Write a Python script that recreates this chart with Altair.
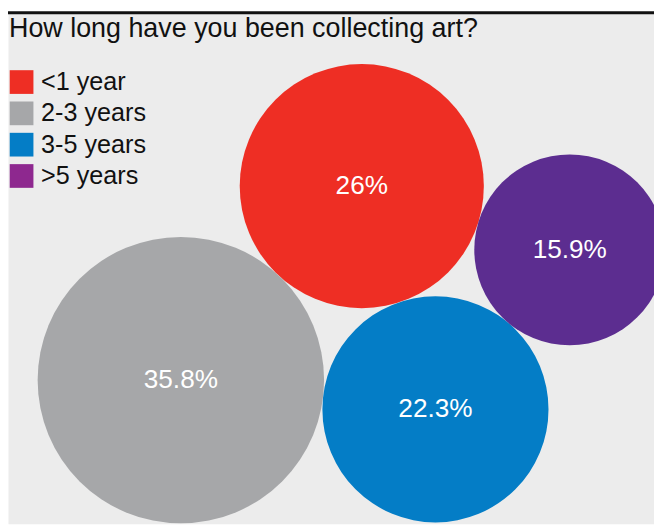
import math
import pandas as pd
import altair as alt

# ---- data ----
categories = ["<1 year", "2-3 years", "3-5 years", ">5 years"]
values = [26, 35.8, 22.3, 15.9]
bubble_colors = ["#ee2e24", "#a6a7a9", "#047dc6", "#5c2d90"]
legend_colors = ["#ee2e24", "#a6a7a9", "#047dc6", "#8e288f"]
title_text = "How long have you been collecting art?"

# ---- layout (computed) ----
W, H = 654, 519
R_MAX_PX = 145.0
FONT = "Liberation Sans"

r = {c: math.sqrt(v) for c, v in zip(categories, values)}
order = sorted(categories, key=lambda c: -r[c])


def tangent(c1, r1, c2, r2, rr):
    dx, dy = c2[0] - c1[0], c2[1] - c1[1]
    d = math.hypot(dx, dy)
    ux, uy = dx / d, dy / d
    a, b = r1 + rr, r2 + rr
    along = (a * a - b * b + d * d) / (2 * d)
    h = math.sqrt(max(a * a - along * along, 0))
    return (c1[0] + along * ux + h * uy, c1[1] + along * uy - h * ux)


theta = math.radians(47)
pos = {}
c0, c1, c2, c3 = order
pos[c0] = (0.0, 0.0)
pos[c1] = ((r[c0] + r[c1]) * math.cos(theta), (r[c0] + r[c1]) * math.sin(theta))
pos[c2] = tangent(pos[c0], r[c0], pos[c1], r[c1], r[c2])
pos[c3] = tangent(pos[c2], r[c2], pos[c1], r[c1], r[c3])

k = R_MAX_PX / max(r.values())
x_left = min(pos[c][0] - r[c] for c in categories) - 30 / k
y_bottom = min(pos[c][1] - r[c] for c in categories) - 0.5 / k
x_dom = [x_left, x_left + W / k]
y_dom = [y_bottom, y_bottom + H / k]

df = pd.DataFrame({
    "category": categories,
    "value": values,
    "x": [pos[c][0] for c in categories],
    "y": [pos[c][1] for c in categories],
    "label": [f"{v:g}%" for v in values],
})

xs = alt.X("x:Q", scale=alt.Scale(domain=x_dom, zero=False, nice=False), axis=None)
ys = alt.Y("y:Q", scale=alt.Scale(domain=y_dom, zero=False, nice=False), axis=None)

base = alt.Chart(df)

# Vega circle symbol: radius = sqrt(size) / 2
bubbles = base.mark_circle(opacity=1).encode(
    x=xs, y=ys,
    size=alt.Size("value:Q", scale=alt.Scale(domain=[0, max(values)],
                                              range=[0, (2 * R_MAX_PX) ** 2]),
                  legend=None),
    color=alt.Color("category:N", scale=alt.Scale(domain=categories, range=bubble_colors),
                    legend=None),
)

legend_layer = base.mark_point(opacity=0, filled=True).encode(
    x=xs, y=ys,
    color=alt.Color(
        "category:N",
        scale=alt.Scale(domain=categories, range=legend_colors),
        legend=alt.Legend(
            title=None, orient="none", legendX=1, legendY=59, padding=0,
            symbolType="square", symbolSize=576, symbolOpacity=1, symbolStrokeWidth=0,
            labelFontSize=25.5, labelFont=FONT, labelColor="#111111",
            labelOffset=7, rowPadding=4.7, labelLimit=300,
        ),
    ),
)

labels = base.mark_text(color="white", fontSize=26.5, font=FONT, baseline="middle",
                        align="center").encode(x=xs, y=ys, text="label:N")

title = alt.Chart(pd.DataFrame({"t": [title_text]})).mark_text(
    align="left", baseline="alphabetic", fontSize=27.2, font=FONT, color="#111111"
).encode(x=alt.value(1), y=alt.value(26), text="t:N")

rule = alt.Chart(pd.DataFrame({"t": [0]})).mark_rule(color="#111111", strokeWidth=3).encode(
    x=alt.value(0), x2=alt.value(W), y=alt.value(1.5)
)

chart = alt.layer(bubbles, legend_layer, labels, title, rule).resolve_scale(
    color="independent"
).properties(
    width=W, height=H, autosize=alt.AutoSizeParams(type="none"), padding=0
).configure_view(fill="#ececec", stroke="transparent")

chart.save("out.html", embed_options={"renderer": "svg", "actions": False})
